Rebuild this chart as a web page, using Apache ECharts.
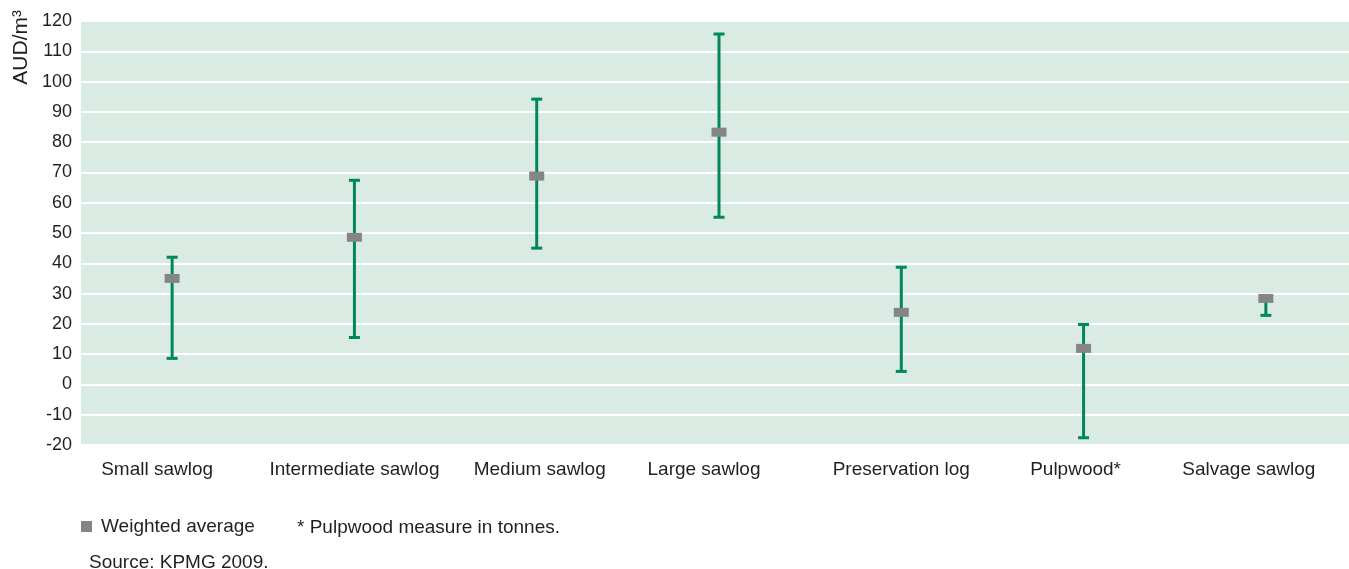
<!DOCTYPE html>
<html>
<head>
<meta charset="utf-8">
<script src="https://cdn.jsdelivr.net/npm/echarts@6/dist/echarts.min.js"></script>
<style>
  html, body { margin: 0; padding: 0; background: #fff; }
  #chart { width: 1349px; height: 569px; }
</style>
</head>
<body>
<div id="chart"></div>
<script>
// Log price ranges by grade (AUD per cubic metre)
const categories = ['Small sawlog', 'Intermediate sawlog', 'Medium sawlog', 'Large sawlog',
                    'Preservation log', 'Pulpwood*', 'Salvage sawlog'];
const lowValues  = [8.6, 15.5, 45.0, 55.2, 4.3, -17.6, 22.8];
const highValues = [42.0, 67.4, 94.2, 115.7, 38.7, 19.8, 29.0];
const weightedAverage = [35.0, 48.6, 68.8, 83.3, 23.8, 11.9, 28.4];
const yTicks = { min: -20, max: 120, step: 10 };

// horizontal nudge of each category label (px)
const labelShift = [-15, 0, 3, -15, 0, -8, -17];

const FONT = '"Liberation Sans", Arial, sans-serif';
const TEXT = '#231f20';
const GREEN = '#00875a';
const GREY = '#858589';

const rich = {};
labelShift.forEach((s, i) => {
  rich['c' + i] = {
    fontSize: 19, fontFamily: FONT, color: TEXT,
    padding: s < 0 ? [0, -2 * s, 0, 0] : [0, 0, 0, 2 * s]
  };
});

const chart = echarts.init(document.getElementById('chart'), null, { renderer: 'canvas' });

chart.setOption({
  animation: false,
  textStyle: { fontFamily: FONT },
  grid: {
    left: 81, top: 21, width: 1276, bottom: 124,
    outerBoundsMode: 'none',
    containLabel: false,
    show: true, backgroundColor: '#d9ebe2', borderWidth: 0
  },
  legend: {
    left: 76, top: 512,
    itemWidth: 11, itemHeight: 11, itemGap: 20,
    icon: 'rect',
    textStyle: { fontSize: 19, color: TEXT, fontFamily: FONT, padding: [0, 0, 0, 4] },
    data: [{ name: 'Weighted average', itemStyle: { color: GREY } }]
  },
  xAxis: {
    type: 'category',
    data: categories,
    boundaryGap: true,
    axisLine: { show: false },
    axisTick: { show: false },
    splitLine: { show: false },
    axisLabel: {
      margin: 15,
      interval: 0,
      formatter: (v, i) => '{c' + i + '|' + v + '}',
      rich: rich
    }
  },
  yAxis: {
    type: 'value',
    min: yTicks.min, max: yTicks.max, interval: yTicks.step,
    axisLine: { show: false },
    axisTick: { show: false },
    axisLabel: { fontSize: 18, color: TEXT, fontFamily: FONT, margin: 9, padding: [3, 0, 0, 0] },
    splitLine: { lineStyle: { color: '#ffffff', width: 2 } }
  },
  graphic: [
    {
      type: 'text', left: 11, top: 10, rotation: Math.PI / 2,
      style: { text: 'AUD/m³', fontSize: 21, fontFamily: FONT, fill: TEXT }
    },
    {
      type: 'text', left: 297, top: 518,
      style: { text: '* Pulpwood measure in tonnes.', fontSize: 19, fontFamily: FONT, fill: TEXT }
    },
    {
      type: 'text', left: 89, top: 553,
      style: { text: 'Source: KPMG 2009.', fontSize: 19, fontFamily: FONT, fill: TEXT }
    }
  ],
  series: [
    {
      name: 'Range',
      type: 'custom',
      z: 2,
      data: categories.map((c, i) => [i, lowValues[i], highValues[i]]),
      renderItem: (params, api) => {
        const x = api.value(0);
        const lo = api.coord([x, api.value(1)]);
        const hi = api.coord([x, api.value(2)]);
        const half = 5.5;
        const style = { stroke: GREEN, lineWidth: 3, fill: null };
        return {
          type: 'group',
          children: [
            { type: 'line', shape: { x1: hi[0], y1: hi[1], x2: lo[0], y2: lo[1] }, style },
            { type: 'line', shape: { x1: hi[0] - half, y1: hi[1], x2: hi[0] + half, y2: hi[1] }, style },
            { type: 'line', shape: { x1: lo[0] - half, y1: lo[1], x2: lo[0] + half, y2: lo[1] }, style }
          ]
        };
      }
    },
    {
      name: 'Weighted average',
      type: 'scatter',
      z: 3,
      symbol: 'rect',
      symbolSize: [15, 9],
      itemStyle: { color: GREY, opacity: 1 },
      data: weightedAverage.map((v, i) => [i, v])
    }
  ]
});
</script>
</body>
</html>
